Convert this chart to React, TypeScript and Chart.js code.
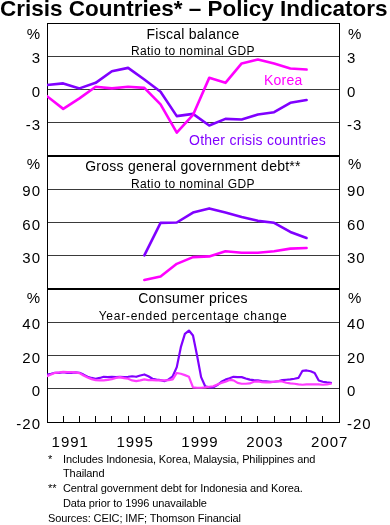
import React, { useEffect, useRef } from 'react';
import { Chart, registerables } from 'chart.js';

Chart.register(...registerables);

const FONT = "'Liberation Sans', Arial, Helvetica, sans-serif";
const PURPLE = '#8000ff';
const MAGENTA = '#ff00ff';
const PINK = '#ff3cff';

// ---- Fiscal balance (annual, % of GDP) ----
const fiscalYears = [1990, 1991, 1992, 1993, 1994, 1995, 1996, 1997, 1998, 1999, 2000, 2001, 2002, 2003, 2004, 2005, 2006];
const fiscalKorea = [-0.6, -1.75, -0.8, 0.25, 0.1, 0.25, 0.15, -1.35, -3.9, -2.3, 1.05, 0.6, 2.35, 2.7, 2.35, 1.9, 1.8];
const fiscalOther = [0.4, 0.55, 0.1, 0.6, 1.65, 1.95, 0.9, -0.2, -2.4, -2.2, -3.25, -2.65, -2.7, -2.25, -2.05, -1.2, -0.95];

// ---- Gross general government debt (annual, % of GDP) ----
const debtYears = [1996, 1997, 1998, 1999, 2000, 2001, 2002, 2003, 2004, 2005, 2006];
const debtKorea = [8.2, 11.2, 22.7, 28.8, 29.4, 34, 32.7, 32.7, 34, 36.4, 37];
const debtOther = [30.3, 59.7, 60, 69, 72.7, 69, 65, 61.5, 59.7, 51.5, 46];

// ---- Consumer prices (quarterly, year-ended % change), from 1990 Q1 ----
const cpiKorea = [
  7.6, 8.6, 9.6, 9.8,
  10.2, 10.0, 10.0, 9.8,
  9.4, 8.0, 6.8, 5.8,
  5.2, 5.0, 5.0, 5.3,
  5.8, 6.5, 7.0, 6.4,
  6.0, 5.0, 4.6, 5.0,
  5.6, 5.2, 5.2, 5.0,
  5.0, 5.0, 5.2, 5.6,
  9.5, 9.0, 8.2, 7.2,
  0.8, 0.6, 0.6, 0.8,
  1.2, 1.5, 2.6, 3.5,
  4.2, 5.3, 5.0, 3.5,
  3.0, 3.0, 3.2, 4.2,
  4.4, 4.0, 3.8, 3.8,
  4.2, 4.6, 4.4, 3.6,
  3.2, 3.0, 2.6, 2.4,
  2.6, 2.6, 2.6, 2.6,
  2.4, 2.6, 3.0,
];
const cpiOther = [
  8.5, 9.0, 9.6, 9.5,
  10.0, 9.6, 9.6, 9.8,
  9.6, 8.5, 7.2, 6.5,
  6.0, 6.5, 7.2, 7.0,
  7.2, 7.0, 7.2, 7.0,
  7.2, 7.5, 7.2, 8.0,
  8.6, 7.5, 6.0, 5.5,
  5.2, 4.6, 5.6, 7.5,
  13.0, 25.0, 33.0, 35.0,
  32.0, 20.0, 7.0, 1.5,
  0.8, 0.8, 2.2, 4.2,
  5.5, 6.3, 7.2, 7.0,
  7.0, 6.2, 5.5, 5.2,
  5.0, 4.6, 4.4, 4.2,
  4.2, 4.5, 5.2, 5.4,
  5.6, 6.0, 6.5, 10.8,
  11.0, 10.5, 9.5, 5.0,
  4.2, 3.8, 3.5,
];
const cpiStartYear = 1990;
const cpiDates = cpiKorea.map((_, i) => cpiStartYear + i / 4);

// ---- Axes ----
const xMin = 1990;
const xMax = 2008;
const xTickYears = [1991, 1992, 1993, 1994, 1995, 1996, 1997, 1998, 1999, 2000, 2001, 2002, 2003, 2004, 2005, 2006, 2007];
const xLabelYears = [1991, 1995, 1999, 2003, 2007];

const fiscalRange = { min: -6, max: 6, step: 3, hidden: [6, -6], boundary: [6, -6], thick: [-6] };
const debtRange = { min: 0, max: 120, step: 30, hidden: [0, 120], boundary: [0, 120], thick: [0, 120] };
const cpiRange = { min: -20, max: 60, step: 20, hidden: [60], boundary: [60, -20], thick: [60] };

const tickFont = { family: FONT, size: 15 };

function pts(xs: number[], ys: number[]) {
  return xs.map((x, i) => ({ x, y: ys[i] }));
}

function yAxis(r: any, side: 'left' | 'right', weight: number) {
  const left = side === 'left';
  return {
    type: 'linear',
    position: side,
    stack: left ? 'L' : 'R',
    stackWeight: 1,
    weight,
    min: r.min,
    max: r.max,
    ticks: {
      stepSize: r.step,
      autoSkip: false,
      font: tickFont,
      color: '#000',
      padding: left ? 6 : 8,
      labelOffset: 3,
      callback: (v: number) => (r.hidden.includes(v) ? '' : String(v)),
    },
    grid: left
      ? {
          drawTicks: false,
          color: (c: any) => (r.boundary.includes(c.tick?.value) ? '#000' : '#3a3a3a'),
          lineWidth: (c: any) => (r.thick.includes(c.tick?.value) ? 2 : 1),
        }
      : { drawOnChartArea: false, drawTicks: false },
    border: { display: true, color: '#000', width: 1 },
    afterFit: (s: any) => {
      s.width = left ? 47 : 51;
    },
  };
}

const spacingPlugin = {
  id: 'tickSpacing',
  beforeLayout(chart: any) {
    chart.ctx.letterSpacing = '1px';
  },
  beforeDraw(chart: any) {
    chart.ctx.letterSpacing = '1px';
  },
};

function T(props: { x: number; y: number; size: number; children: any; color?: string; bold?: boolean; ls?: number; align?: 'left' | 'right' | 'center'; w?: number }) {
  const { x, y, size, color = '#000', bold, ls = 0, align = 'left', w } = props;
  const style: any = {
    position: 'absolute',
    top: y,
    fontSize: size,
    lineHeight: 1,
    color,
    fontWeight: bold ? 'bold' : 'normal',
    letterSpacing: ls,
    whiteSpace: 'nowrap',
    fontFamily: FONT,
  };
  if (align === 'right') {
    style.right = 390 - x;
    style.textAlign = 'right';
  } else if (align === 'center') {
    style.left = x;
    style.width = w;
    style.textAlign = 'center';
  } else {
    style.left = x;
  }
  return <div style={style}>{props.children}</div>;
}

export default function App() {
  const ref = useRef<HTMLCanvasElement>(null);

  useEffect(() => {
    const chart = new Chart(ref.current as HTMLCanvasElement, {
      type: 'line',
      data: {
        datasets: [
          { label: 'Korea', data: pts(fiscalYears, fiscalKorea), yAxisID: 'yF', borderColor: MAGENTA, borderWidth: 2.6 },
          { label: 'Other crisis countries', data: pts(fiscalYears, fiscalOther), yAxisID: 'yF', borderColor: PURPLE, borderWidth: 2.6 },
          { label: 'Korea debt', data: pts(debtYears, debtKorea), yAxisID: 'yD', borderColor: MAGENTA, borderWidth: 2.6 },
          { label: 'Other debt', data: pts(debtYears, debtOther), yAxisID: 'yD', borderColor: PURPLE, borderWidth: 2.6 },
          { label: 'Korea CPI', data: pts(cpiDates, cpiKorea), yAxisID: 'yC', borderColor: PINK, borderWidth: 2.2 },
          { label: 'Other CPI', data: pts(cpiDates, cpiOther), yAxisID: 'yC', borderColor: PURPLE, borderWidth: 2.2 },
        ] as any,
      },
      options: {
        animation: false,
        responsive: false,
        devicePixelRatio: 1,
        elements: { point: { radius: 0 }, line: { tension: 0, borderJoinStyle: 'round', borderCapStyle: 'round' } },
        layout: { padding: { top: 23, left: 0, right: 0, bottom: 0 } },
        plugins: { legend: { display: false }, tooltip: { enabled: false }, title: { display: false } },
        scales: {
          x: {
            type: 'linear',
            position: 'bottom',
            min: xMin,
            max: xMax,
            afterBuildTicks: (s: any) => {
              s.ticks = xTickYears.map((v) => ({ value: v }));
            },
            ticks: {
              autoSkip: false,
              maxRotation: 0,
              minRotation: 0,
              font: tickFont,
              color: '#000',
              padding: 18,
              labelOffset: 7,
              callback: (v: number) => (xLabelYears.includes(v) ? String(v) : ''),
            },
            grid: { drawOnChartArea: false, drawTicks: true, tickLength: -6, color: '#000', lineWidth: 1 },
            border: { display: true, color: '#000', width: 1 },
            afterFit: (s: any) => {
              s.height = 33;
            },
          },
          yF: yAxis(fiscalRange, 'left', 3),
          yD: yAxis(debtRange, 'left', 2),
          yC: yAxis(cpiRange, 'left', 1),
          yFr: yAxis(fiscalRange, 'right', 1),
          yDr: yAxis(debtRange, 'right', 2),
          yCr: yAxis(cpiRange, 'right', 3),
        } as any,
      },
      plugins: [spacingPlugin],
    } as any);
    return () => chart.destroy();
  }, []);

  return (
    <div style={{ position: 'absolute', left: 0, top: 0, width: 390, height: 525, background: '#fff', overflow: 'hidden', fontFamily: FONT }}>
      <canvas ref={ref} width={390} height={455} style={{ position: 'absolute', left: 0, top: 0, display: 'block' }} />

      <T x={0} y={-2} size={22.5} bold>Crisis Countries* – Policy Indicators</T>

      {/* Panel 1 */}
      <T x={40} y={26.3} size={15} align="right">%</T>
      <T x={348} y={26.3} size={15}>%</T>
      <T x={47} w={292} y={27.1} size={14} ls={0.25} align="center">Fiscal balance</T>
      <T x={47} w={292} y={44.8} size={12} ls={0.4} align="center">Ratio to nominal GDP</T>
      <T x={264} y={73.2} size={14} ls={0.25} color={MAGENTA}>Korea</T>
      <T x={189} y={133.2} size={14} ls={0.25} color={PURPLE}>Other crisis countries</T>

      {/* Panel 2 */}
      <T x={40} y={155.8} size={15} align="right">%</T>
      <T x={348} y={155.8} size={15}>%</T>
      <T x={47} w={292} y={158.9} size={14} ls={0.25} align="center">Gross general government debt**</T>
      <T x={47} w={292} y={177.5} size={12} ls={0.4} align="center">Ratio to nominal GDP</T>

      {/* Panel 3 */}
      <T x={40} y={290.3} size={15} align="right">%</T>
      <T x={348} y={290.3} size={15}>%</T>
      <T x={47} w={292} y={290.7} size={14} ls={0.25} align="center">Consumer prices</T>
      <T x={47} w={292} y={310.3} size={12} ls={0.75} align="center">Year-ended percentage change</T>

      {/* Footnotes */}
      <T x={48} y={454} size={11}>*</T>
      <T x={63} y={454} size={11} ls={-0.1}>Includes Indonesia, Korea, Malaysia, Philippines and</T>
      <T x={63} y={468.4} size={11} ls={-0.1}>Thailand</T>
      <T x={48} y={483.4} size={11}>**</T>
      <T x={63} y={483.4} size={11} ls={-0.1}>Central government debt for Indonesia and Korea.</T>
      <T x={63} y={498.4} size={11} ls={-0.1}>Data prior to 1996 unavailable</T>
      <T x={48} y={513.4} size={11} ls={-0.1}>Sources: CEIC; IMF; Thomson Financial</T>
    </div>
  );
}
